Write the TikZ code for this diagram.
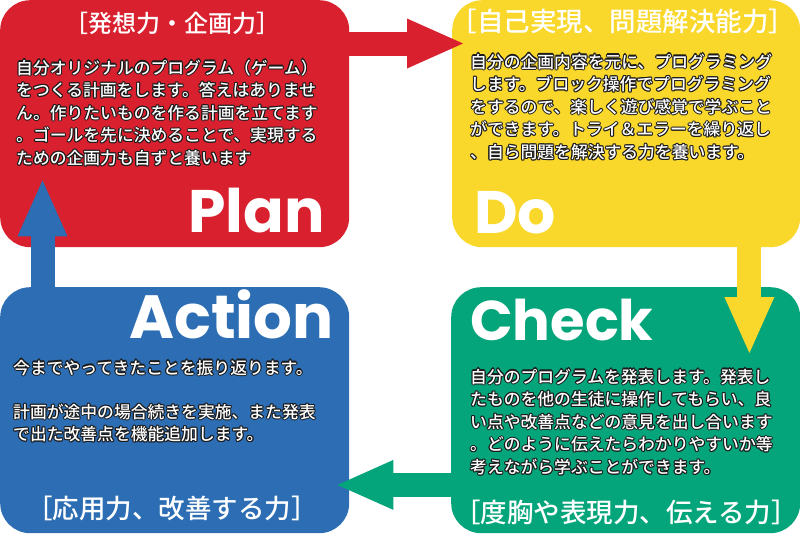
\documentclass[tikz,border=0pt]{standalone}
\usepackage{fontspec}
\usetikzlibrary{arrows.meta}
\newfontfamily\jp{Noto Sans CJK JP Medium}
\newfontfamily\jph{Noto Sans CJK JP Medium}
\newfontfamily\bigfont{Poppins}[UprightFont=* Bold]
\definecolor{cRed}{HTML}{D8202E}
\definecolor{cYel}{HTML}{FAD82B}
\definecolor{cGrn}{HTML}{04A57B}
\definecolor{cBlu}{HTML}{2C6DB3}
\definecolor{olc}{HTML}{1A1A1A}
\newdimen\oldim \oldim=1.1pt
\newsavebox\olb
\newsavebox\olw
\newcommand\olshift[2]{\makebox[0pt][l]{\kern#1\oldim\raisebox{#2\oldim}{\usebox\olb}}}
\newcommand\outl[1]{%
  \sbox\olb{\parbox[t]{340pt}{\leavevmode\bodyfont\color{olc}#1}}%
  \sbox\olw{\parbox[t]{340pt}{\leavevmode\bodyfont\color{white}#1}}%
  \olshift{-1}{0}\olshift{1}{0}\olshift{0}{-1}\olshift{0}{1}%
  \olshift{-.7}{-.7}\olshift{.7}{-.7}\olshift{-.7}{.7}\olshift{.7}{.7}%
  \usebox\olw}
\newcommand\bodyfont{\jp\fontsize{16.8}{22.6}\selectfont}
\begin{document}
\begin{tikzpicture}[x=1pt,y=-1pt,
  box/.style={rounded corners=30pt, minimum width=349pt, minimum height=247pt, inner sep=0pt, anchor=north west},
  head/.style={text=white, inner sep=0pt, anchor=center},
  bigword/.style={text=white, inner sep=0pt, anchor=base west, font=\bigfont\fontsize{60}{60}\selectfont},
  bodytext/.style={inner sep=0pt, anchor=base west},
  flow/.style={line width=24pt, -{Triangle[length=56pt,width=50pt,line width=0pt]}}
]
\useasboundingbox (0,0) rectangle (800,533);
% boxes
\node[box, fill=cRed] (plan) at (0,0) {};
\node[box, fill=cYel, minimum width=348pt] (do) at (452,0) {};
\node[box, fill=cGrn, minimum height=246pt] (check) at (451,287) {};
\node[box, fill=cBlu, minimum height=246pt] (action) at (0,287) {};
% headings
\node[head, font=\jph\fontsize{24}{24}\selectfont] (planhead) at (172,23) {［発想力・企画力］};
\node[head, font=\jph\fontsize{26.5}{26.5}\selectfont] (dohead) at (623,21) {［自己実現、問題解決能力］};
\node[head, font=\jph\fontsize{26.5}{26.5}\selectfont] (actionhead) at (172,508) {［応用力、改善する力］};
\node[head, font=\jph\fontsize{26.5}{26.5}\selectfont] (checkhead) at (626,512) {［度胸や表現力、伝える力］};
% big words
\node[bigword] (planword) at (188,232) {Plan};
\node[bigword] (doword) at (474,233) {Do};
\node[bigword, font=\bigfont\fontsize{56}{56}\selectfont] (checkword) at (470,340) {Check};
\node[bigword, font=\bigfont\fontsize{61}{61}\selectfont] (actionword) at (129,338) {Action};
% body texts
\node[bodytext] (plantext) at (16,74) {\outl{自分オリジナルのプログラム（ゲーム）\\をつくる計画をします。答えはありませ\\ん。作りたいものを作る計画を立てます\\。ゴールを先に決めることで、実現する\\ための企画力も自ずと養います}};
\node[bodytext] (dotext) at (470,68) {\outl{自分の企画内容を元に、プログラミング\\します。ブロック操作でプログラミング\\をするので、楽しく遊び感覚で学ぶこと\\ができます。トライ＆エラーを繰り返し\\、自ら問題を解決する力を養います。}};
\node[bodytext] (checktext) at (470,383) {\outl{自分のプログラムを発表します。発表し\\たものを他の生徒に操作してもらい、良\\い点や改善点などの意見を出し合います\\。どのように伝えたらわかりやすいか等\\考えながら学ぶことができます。}};
\node[bodytext] (actiontext) at (13,374) {\outl{今までやってきたことを振り返ります。\\[21.5pt]計画が途中の場合続きを実施、また発表\\で出た改善点を機能追加します。}};
% flow arrows
\draw[flow, cRed] ([xshift=-4pt,yshift=-43.5pt]plan.north east) -- ([xshift=11pt,yshift=-43.5pt]do.north west);
\draw[flow, cYel] ([xshift=-51pt,yshift=4pt]do.south east) -- ([xshift=-51pt,yshift=-66pt]check.north east);
\draw[flow, cGrn] ([xshift=4pt,yshift=48.5pt]check.south west) -- ([xshift=-12pt,yshift=48.5pt]action.south east);
\draw[flow, cBlu] ([xshift=42.5pt,yshift=-4pt]action.north west) -- ([xshift=42.5pt,yshift=67pt]plan.south west);
\end{tikzpicture}
\end{document}
